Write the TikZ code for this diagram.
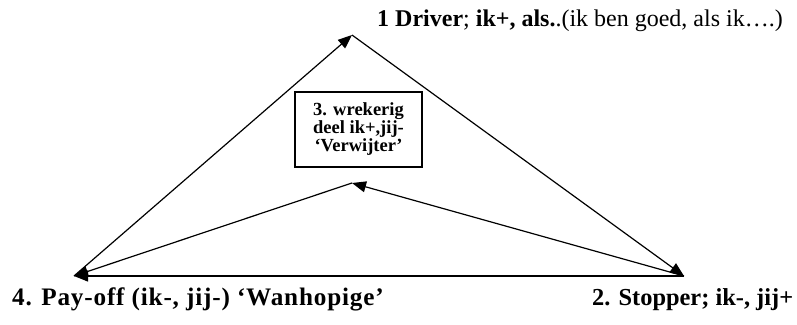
\documentclass[tikz,border=0pt]{standalone}
\usepackage{fontspec}
\setmainfont{Liberation Serif}
\usetikzlibrary{arrows.meta}
\tikzset{
  link/.style={line width=1.2pt, -{Triangle[length=14pt,width=11pt]}},
  label/.style={inner sep=0pt, anchor=base west},
  rolebox/.style={draw, line width=1.2pt, minimum width=127pt, minimum height=75pt,
    align=center, inner sep=0pt, font=\fontsize{18.5}{18}\selectfont\bfseries}
}
\begin{document}
\begin{tikzpicture}[x=1pt,y=-1pt]
  \useasboundingbox (0,0) rectangle (797,324);
  % corners of the drama triangle
  \coordinate (top) at (352,35);
  \coordinate (left) at (74,276);
  \coordinate (right) at (684,276);
  \coordinate (mid) at (352,183);
  % roles
  \node[label, font=\fontsize{24}{26}\selectfont] (driver) at (377,27)
    {\textbf{1 Driver}; \textbf{ik+, als.}.(ik ben goed, als ik….)};
  \node[rolebox] (wrekerig) at (358.5,129.5) {3. wrekerig\\deel ik+,jij-\\‘Verwijter’};
  \node[label, font=\fontsize{25.2}{27}\selectfont\bfseries\addfontfeatures{LetterSpace=3.2}] (payoff) at (12,305)
    {4. Pay-off (ik-, jij-) ‘Wanhopige’};
  \node[label, font=\fontsize{24.4}{26}\selectfont\bfseries] (stopper) at (592,305)
    {2. Stopper; ik-, jij+};
  % transitions
  \draw[link] (left) -- (top);
  \draw[link] (top) -- (right);
  \draw[link] (right) -- (left);
  \draw[link] (right) -- (mid);
  \draw[link] (mid) -- (left);
\end{tikzpicture}
\end{document}
